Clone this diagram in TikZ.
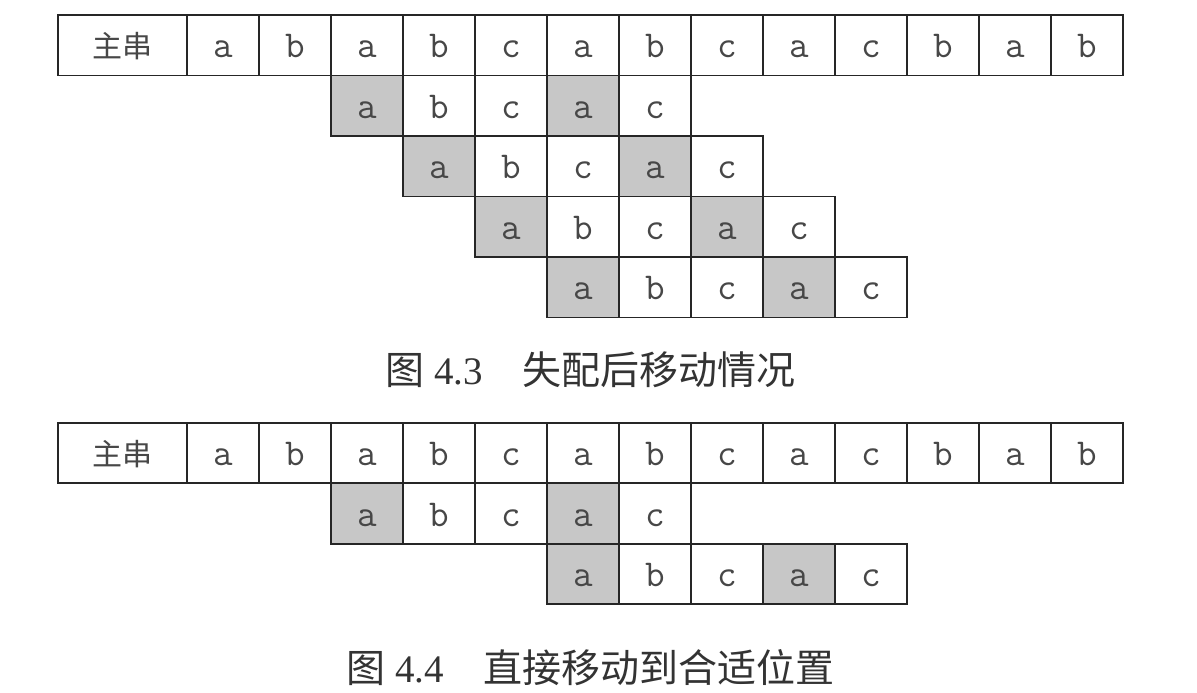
\documentclass[tikz,border=0pt]{standalone}
\usepackage{fontspec}
\setmainfont{Liberation Serif}
\newfontfamily\cjk{Noto Sans CJK SC}
\usetikzlibrary{positioning}

\tikzset{
  cell/.style={draw=black!85, line width=0.9pt, minimum width=36pt, minimum height=30.25pt,
    inner sep=0pt, text height=12.5pt, text depth=0pt,
    font=\fontsize{19}{19}\selectfont\ttfamily, text=black!72},
  hit/.style={cell, fill=black!22},
  headcell/.style={cell, minimum width=64.5pt, font=\cjk\fontsize{15}{15}\selectfont},
  caption/.style={font=\fontsize{19.5}{20}\selectfont, text=black!80},
}

\begin{document}
\begin{tikzpicture}[x=36pt, y=-30.25pt]
\useasboundingbox (-2.597,-0.248) rectangle (14.028,11.19);

% main string (fig 4.3)
\node[headcell] (headA) at (-0.896,0.5) {主串};
\foreach \ch [count=\i] in {a,b,a,b,c,a,b,c,a,c,b,a,b}
  \node[cell] (mainA\i) at (\i-0.5,0.5) {\ch};

% pattern shifted one step at a time
\foreach \r in {1,...,4}
  \foreach \ch/\sty [count=\j] in {a/hit,b/cell,c/cell,a/hit,c/cell}
    \node[\sty] (patA\r\j) at (\r+\j+0.5,\r+0.5) {\ch};

\node[caption] (capA) at (5.604,5.87) {{\cjk 图} 4.3\hspace{1em}{\cjk 失配后移动情况}};

% main string (fig 4.4)
\node[headcell] (headB) at (-0.896,7.24) {主串};
\foreach \ch [count=\i] in {a,b,a,b,c,a,b,c,a,c,b,a,b}
  \node[cell] (mainB\i) at (\i-0.5,7.24) {\ch};

% pattern before and after the jump
\foreach \s [count=\r] in {0,3}
  \foreach \ch/\sty [count=\j] in {a/hit,b/cell,c/cell,a/hit,c/cell}
    \node[\sty] (patB\r\j) at (\s+\j+1.5,\r+7.24) {\ch};

\node[caption] (capB) at (5.604,10.78) {{\cjk 图} 4.4\hspace{1em}{\cjk 直接移动到合适位置}};
\end{tikzpicture}
\end{document}
